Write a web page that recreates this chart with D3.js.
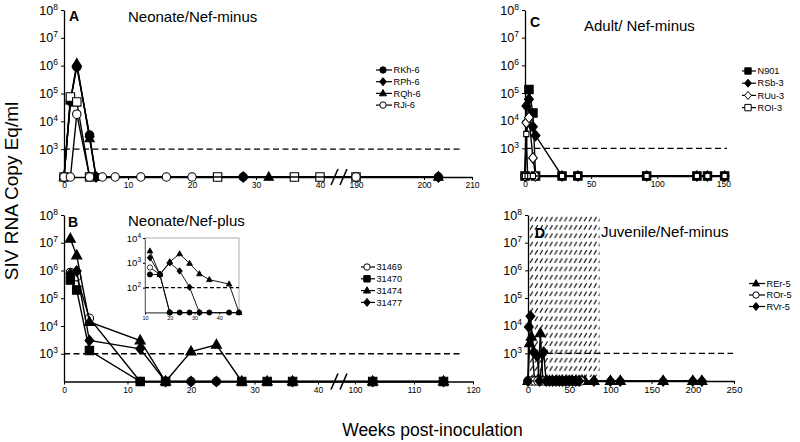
<!DOCTYPE html>
<html><head><meta charset="utf-8">
<script src="https://cdn.jsdelivr.net/npm/d3@7"></script>
<style>body{margin:0;background:#fff}svg{font-family:"Liberation Sans",Arial,sans-serif}</style>
</head><body><svg id="c" width="800" height="442"></svg>
<script>
const BASE = 100; // undetectable: plotted on the x-axis baseline
const yTickVals = [1e3, 1e4, 1e5, 1e6, 1e7, 1e8];
const limit = 1e3;

// ---- Panel A: Neonate/Nef-minus ----
const aTicks = [0, 10, 20, 30, 40, 190, 200, 210];
const aRKh6W = [0, 1, 2, 4, 5, 28, 203];
const aRKh6V = [BASE, 55000, 900000, 3200, BASE, BASE, BASE];
const aRPh6W = [0, 1, 2, 4, 5, 28, 203];
const aRPh6V = [BASE, 50000, 1000000, 2800, BASE, BASE, BASE];
const aRQh6W = [0, 1, 2, 4, 5, 32, 203];
const aRQh6V = [BASE, 55000, 1200000, 2400, BASE, BASE, BASE];
const aExtraW = [0, 1, 2, 4, 24, 36, 40, 190];
const aExtraV = [BASE, 75000, 50000, BASE, BASE, BASE, BASE, BASE];
const aRJi6W = [0, 1, 2, 4, 6, 8, 12, 16, 20, 190];
const aRJi6V = [BASE, BASE, 18000, BASE, BASE, BASE, BASE, BASE, BASE, BASE];

// ---- Panel B: Neonate/Nef-plus ----
const bTicks = [0, 10, 20, 30, 40, 100, 110, 120];
const b31469W = [1, 2, 4, 12, 16, 20, 24];
const b31469V = [850000, 600000, 19000, BASE, BASE, BASE, BASE];
const b31470W = [1, 2, 4, 12, 16, 28, 32, 36, 103, 115];
const b31470V = [450000, 200000, 1300, BASE, BASE, BASE, BASE, BASE, BASE, BASE];
const b31474W = [1, 2, 4, 12, 16, 20, 24, 28, 32, 36, 103, 115];
const b31474V = [14000000, 3500000, 14000, 3000, BASE, 1200, 2100, BASE, BASE, BASE, BASE, BASE];
const b31477W = [1, 2, 4, 12, 16, 20, 24, 36, 103, 115];
const b31477V = [750000, 950000, 3000, 1500, BASE, BASE, BASE, BASE, BASE, BASE];
// inset (weeks 12-48, finer assay)
const INSET_BASE = 10;
const inTicks = [10, 20, 30, 40];
const in31469W = [12, 16, 20];
const in31469V = [650, 340, INSET_BASE];
const in31470W = [12, 16, 20, 24, 28, 32, 36, 44, 48];
const in31470V = [340, 340, INSET_BASE, INSET_BASE, INSET_BASE, INSET_BASE, INSET_BASE, INSET_BASE, INSET_BASE];
const in31474W = [12, 16, 20, 24, 28, 32, 36, 44, 48];
const in31474V = [3000, 340, 1100, 2300, 950, 360, 210, 140, INSET_BASE];
const in31477W = [12, 16, 20, 24, 28, 32];
const in31477V = [1600, 340, 1000, 470, 105, INSET_BASE];

// ---- Panel C: Adult/ Nef-minus ----
const cTicks = [0, 50, 100, 150];
const cN901W = [0, 3, 6, 8, 28, 40, 92, 130, 138, 151];
const cN901V = [BASE, 135000, 19000, BASE, BASE, BASE, BASE, BASE, BASE, BASE];
const cRSb3W = [0, 1, 3, 6, 8, 28, 40, 92, 130, 138, 151];
const cRSb3V = [BASE, 34000, 60000, 6000, 2900, BASE, BASE, BASE, BASE, BASE, BASE];
const cRUu3W = [0, 1, 3, 6, 8];
const cRUu3V = [BASE, 8500, 13000, 450, BASE];
const cROI3W = [0, 1, 2, 4, 6, 28, 40, 92, 130, 138, 151];
const cROI3V = [BASE, 3300, BASE, BASE, BASE, BASE, BASE, BASE, BASE, BASE, BASE];

// ---- Panel D: Juvenile/Nef-minus ----
const dTicks = [0, 50, 100, 150, 200, 250];
const dREr5W = [0, 2, 4, 8, 12, 15, 18, 22, 26, 30, 34, 38, 42, 46, 50, 54, 58, 62, 66, 69, 80, 100, 112, 164, 200, 211];
const dREr5V = [BASE, 2300, 4000, BASE, BASE, 5300, BASE, BASE, BASE, BASE, BASE, BASE, BASE, BASE, BASE, BASE, BASE, BASE, BASE, BASE, BASE, BASE, BASE, BASE, BASE, BASE];
const dROr5W = [0, 4, 8, 12, 16, 20, 24, 28, 32, 36, 40, 44, 48, 52, 56, 60, 64];
const dROr5V = [BASE, BASE, BASE, BASE, BASE, BASE, BASE, BASE, BASE, BASE, BASE, BASE, BASE, BASE, BASE, BASE, BASE];
const dRVr5W = [0, 1, 3, 7, 11, 14, 19, 22, 26, 30, 34, 38, 42, 46, 50, 54, 58, 62, 80, 100, 112, 164, 200, 211];
const dRVr5V = [BASE, 9000, 22000, 1100, 800, BASE, 1100, BASE, BASE, BASE, BASE, BASE, BASE, BASE, BASE, BASE, BASE, BASE, BASE, BASE, BASE, BASE, BASE, BASE];
const hatchWeeks = [0, 87];

// ---------------------------------------------------------------
const svg = d3.select("#c");
const defs = svg.append("defs");
const pat = defs.append("pattern").attr("id", "hatch").attr("patternUnits", "userSpaceOnUse")
  .attr("width", 4.9).attr("height", 8.3).attr("x", 0).attr("y", 215);
pat.append("path").attr("d", "M0.9,6.4L3.6,2.0").attr("stroke", "#000").attr("stroke-width", 1.1);

function markerPath(type, r) {
  switch (type) {
    case "circle": return `M${r},0A${r},${r},0,1,1,${-r},0A${r},${r},0,1,1,${r},0Z`;
    case "square": return `M${-r},${-r}H${r}V${r}H${-r}Z`;
    case "triangle": return `M0,${-r * 1.2}L${r * 1.1},${r * 0.75}L${-r * 1.1},${r * 0.75}Z`;
    case "diamond": return `M0,${-r * 1.25}L${r * 1.05},0L0,${r * 1.25}L${-r * 1.05},0Z`;
  }
}

function drawPanel(p) {
  const g = svg.append("g");
  const x = d3.scaleLinear().domain(p.xDomain).range(p.xRange);
  const y = d3.scaleLog().domain([BASE, 1e8]).range([p.yBottom, p.yTop]);
  if (p.hatch) {
    g.append("rect").attr("x", x(p.hatch[0])).attr("y", y(1e8) + 1)
      .attr("width", x(p.hatch[1]) - x(p.hatch[0])).attr("height", y(BASE) - y(1e8) - 5)
      .attr("fill", "url(#hatch)");
  }
  // y axis
  const ya = g.append("g").attr("transform", `translate(${p.xRange[0]},0)`)
    .call(d3.axisLeft(y).tickValues(yTickVals).tickSize(3).tickSizeOuter(0).tickPadding(3).tickFormat(() => ""));
  ya.selectAll(".tick text").attr("font-size", 12.5).attr("fill", "#000")
    .text("10").append("tspan").attr("dy", -5).attr("font-size", 8.5).text(d => Math.round(Math.log10(d)));
  ya.select(".domain").attr("stroke-width", 1.3);
  // x axis
  const xa = g.append("g").attr("transform", `translate(0,${p.yBottom})`)
    .call(d3.axisBottom(x).tickValues(p.xTicks).tickSize(3).tickSizeOuter(0).tickPadding(2).tickFormat(d3.format("d")));
  xa.selectAll(".tick text").attr("font-size", p.tickFont).attr("fill", "#000");
  xa.select(".domain").attr("stroke-width", 1.5);
  // limit line
  g.append("line").attr("x1", p.xRange[0]).attr("x2", p.dashEnd).attr("y1", y(limit)).attr("y2", y(limit))
    .attr("stroke", "#000").attr("stroke-width", 1.4).attr("stroke-dasharray", "6,3.5");
  // axis break
  if (p.brk) {
    [-4.5, 4.5].forEach(o => g.append("line")
      .attr("x1", p.brk + o - 3.5).attr("y1", p.yBottom + 8).attr("x2", p.brk + o + 3.5).attr("y2", p.yBottom - 8)
      .attr("stroke", "#000").attr("stroke-width", 1.6));
  }
  // series
  const line = d3.line().x(d => x(d[0])).y(d => y(d[1]));
  p.series.forEach(s => {
    const pts = d3.zip(s.w, s.v);
    g.append("path").attr("d", line(pts)).attr("fill", "none").attr("stroke", "#000").attr("stroke-width", 1.4);
    g.selectAll(null).data(pts).enter().append("path")
      .attr("transform", d => `translate(${x(d[0])},${y(d[1])})`)
      .attr("d", markerPath(s.shape, s.r || 4.2))
      .attr("fill", s.fill).attr("stroke", "#000").attr("stroke-width", 1.1);
  });
  // title + letter
  g.append("text").attr("x", p.letterX).attr("y", p.letterY).attr("font-size", 14).attr("font-weight", "bold").text(p.letter);
  g.append("text").attr("x", p.titleX).attr("y", p.titleY).attr("font-size", 15).text(p.title);
  // legend
  const lg = g.append("g");
  p.series.filter(s => s.name).forEach((s, i) => {
    const ry = p.leg.y + i * p.leg.dy;
    lg.append("line").attr("x1", p.leg.x0).attr("x2", p.leg.x1).attr("y1", ry).attr("y2", ry).attr("stroke", "#000").attr("stroke-width", 1.2);
    lg.append("path").attr("transform", `translate(${(p.leg.x0 + p.leg.x1) / 2 - 1},${ry})`)
      .attr("d", markerPath(s.shape, 3.2)).attr("fill", s.fill).attr("stroke", "#000").attr("stroke-width", 1);
    lg.append("text").attr("x", p.leg.x1 + 1.5).attr("y", ry).attr("dy", "0.35em").attr("font-size", 9.2).text(s.name);
  });
  return { x, y };
}

drawPanel({
  xDomain: [0, 40, 190, 200, 210], xRange: [64, 320, 356, 424, 472], yBottom: 177, yTop: 10,
  xTicks: aTicks, tickFont: 8.5, dashEnd: 463, brk: 339,
  letter: "A", letterX: 69, letterY: 21, title: "Neonate/Nef-minus", titleX: 128, titleY: 21.5,
  leg: { x0: 376, x1: 392, y: 70, dy: 11.7 },
  series: [
    { name: "RKh-6", shape: "circle", fill: "#000", w: aRKh6W, v: aRKh6V },
    { name: "RPh-6", shape: "diamond", fill: "#000", w: aRPh6W, v: aRPh6V },
    { name: "RQh-6", shape: "triangle", fill: "#000", w: aRQh6W, v: aRQh6V },
    { name: null, shape: "square", fill: "#fff", w: aExtraW, v: aExtraV },
    { name: "RJi-6", shape: "circle", fill: "#fff", w: aRJi6W, v: aRJi6V }
  ]
});

drawPanel({
  xDomain: [0, 40, 100, 120], xRange: [64, 318, 355, 473], yBottom: 381.5, yTop: 215,
  xTicks: bTicks, tickFont: 8.5, dashEnd: 462, brk: 339,
  letter: "B", letterX: 68, letterY: 226.5, title: "Neonate/Nef-plus", titleX: 128, titleY: 225.5,
  leg: { x0: 361, x1: 375, y: 267, dy: 11.8 },
  series: [
    { name: "31469", shape: "circle", fill: "#fff", w: b31469W, v: b31469V },
    { name: "31470", shape: "square", fill: "#000", w: b31470W, v: b31470V },
    { name: "31474", shape: "triangle", fill: "#000", w: b31474W, v: b31474V, r: 4.6 },
    { name: "31477", shape: "diamond", fill: "#000", w: b31477W, v: b31477V }
  ]
});

drawPanel({
  xDomain: [0, 153], xRange: [525, 727.3], yBottom: 176, yTop: 10,
  xTicks: cTicks, tickFont: 8.5, dashEnd: 727,
  letter: "C", letterX: 530, letterY: 26.5, title: "Adult/ Nef-minus", titleX: 584, titleY: 30.5,
  leg: { x0: 742, x1: 756, y: 71, dy: 12.2 },
  series: [
    { name: "N901", shape: "square", fill: "#000", w: cN901W, v: cN901V },
    { name: "RSb-3", shape: "diamond", fill: "#000", w: cRSb3W, v: cRSb3V },
    { name: "RUu-3", shape: "diamond", fill: "#fff", w: cRUu3W, v: cRUu3V },
    { name: "ROI-3", shape: "square", fill: "#fff", w: cROI3W, v: cROI3V, r: 2.6 }
  ]
});

drawPanel({
  xDomain: [0, 250], xRange: [528, 734], yBottom: 381, yTop: 215,
  xTicks: dTicks, tickFont: 9.5, dashEnd: 733, hatch: hatchWeeks,
  letter: "D", letterX: 535, letterY: 238, title: "Juvenile/Nef-minus", titleX: 601, titleY: 237,
  leg: { x0: 749, x1: 765, y: 283.5, dy: 11.5 },
  series: [
    { name: "REr-5", shape: "triangle", fill: "#000", w: dREr5W, v: dREr5V, r: 4.6 },
    { name: "ROr-5", shape: "circle", fill: "#fff", w: dROr5W, v: dROr5V },
    { name: "RVr-5", shape: "diamond", fill: "#000", w: dRVr5W, v: dRVr5V }
  ]
});

// ---- inset of panel B ----
(function () {
  const g = svg.append("g");
  const x = d3.scaleLinear().domain([10, 48]).range([145, 239]);
  const y = d3.scaleLog().domain([INSET_BASE, 1e4]).range([312.5, 238]);
  g.append("rect").attr("x", 145).attr("y", 238).attr("width", 94).attr("height", 74.5)
    .attr("fill", "#fff").attr("stroke", "#999").attr("stroke-width", 0.8);
  const ya = g.append("g").attr("transform", "translate(145,0)")
    .call(d3.axisLeft(y).tickValues([1e2, 1e3, 1e4]).tickSize(2).tickSizeOuter(0).tickPadding(2).tickFormat(() => ""));
  ya.selectAll(".tick text").attr("font-size", 9.5).attr("fill", "#000")
    .text("10").append("tspan").attr("dy", -4).attr("font-size", 6.5).text(d => Math.round(Math.log10(d)));
  ya.select(".domain").attr("stroke", "#555").attr("stroke-width", 0.8);
  const xa = g.append("g").attr("transform", "translate(0,312.5)")
    .call(d3.axisBottom(x).tickValues(inTicks).tickSize(2).tickSizeOuter(0).tickPadding(1.5));
  xa.selectAll(".tick text").attr("font-size", 5.5).attr("fill", "#000");
  xa.select(".domain").attr("stroke", "#333").attr("stroke-width", 0.9);
  g.append("line").attr("x1", 145).attr("x2", 239).attr("y1", y(100)).attr("y2", y(100))
    .attr("stroke", "#000").attr("stroke-width", 1.1).attr("stroke-dasharray", "4,2.5");
  const line = d3.line().x(d => x(d[0])).y(d => y(d[1]));
  [
    { shape: "circle", fill: "#fff", w: in31469W, v: in31469V },
    { shape: "circle", fill: "#000", w: in31470W, v: in31470V },
    { shape: "triangle", fill: "#000", w: in31474W, v: in31474V },
    { shape: "diamond", fill: "#000", w: in31477W, v: in31477V }
  ].forEach(s => {
    const pts = d3.zip(s.w, s.v);
    g.append("path").attr("d", line(pts)).attr("fill", "none").attr("stroke", "#000").attr("stroke-width", 0.9);
    g.selectAll(null).data(pts).enter().append("path")
      .attr("transform", d => `translate(${x(d[0])},${y(d[1])})`)
      .attr("d", markerPath(s.shape, 2.6)).attr("fill", s.fill).attr("stroke", "#000").attr("stroke-width", 0.8);
  });
})();

// shared axis titles
svg.append("text").attr("transform", "translate(18,191) rotate(-90)").attr("text-anchor", "middle")
  .attr("font-size", 19).text("SIV RNA Copy Eq/ml");
svg.append("text").attr("x", 432.5).attr("y", 436).attr("text-anchor", "middle")
  .attr("font-size", 17.5).text("Weeks post-inoculation");
</script></body></html>
